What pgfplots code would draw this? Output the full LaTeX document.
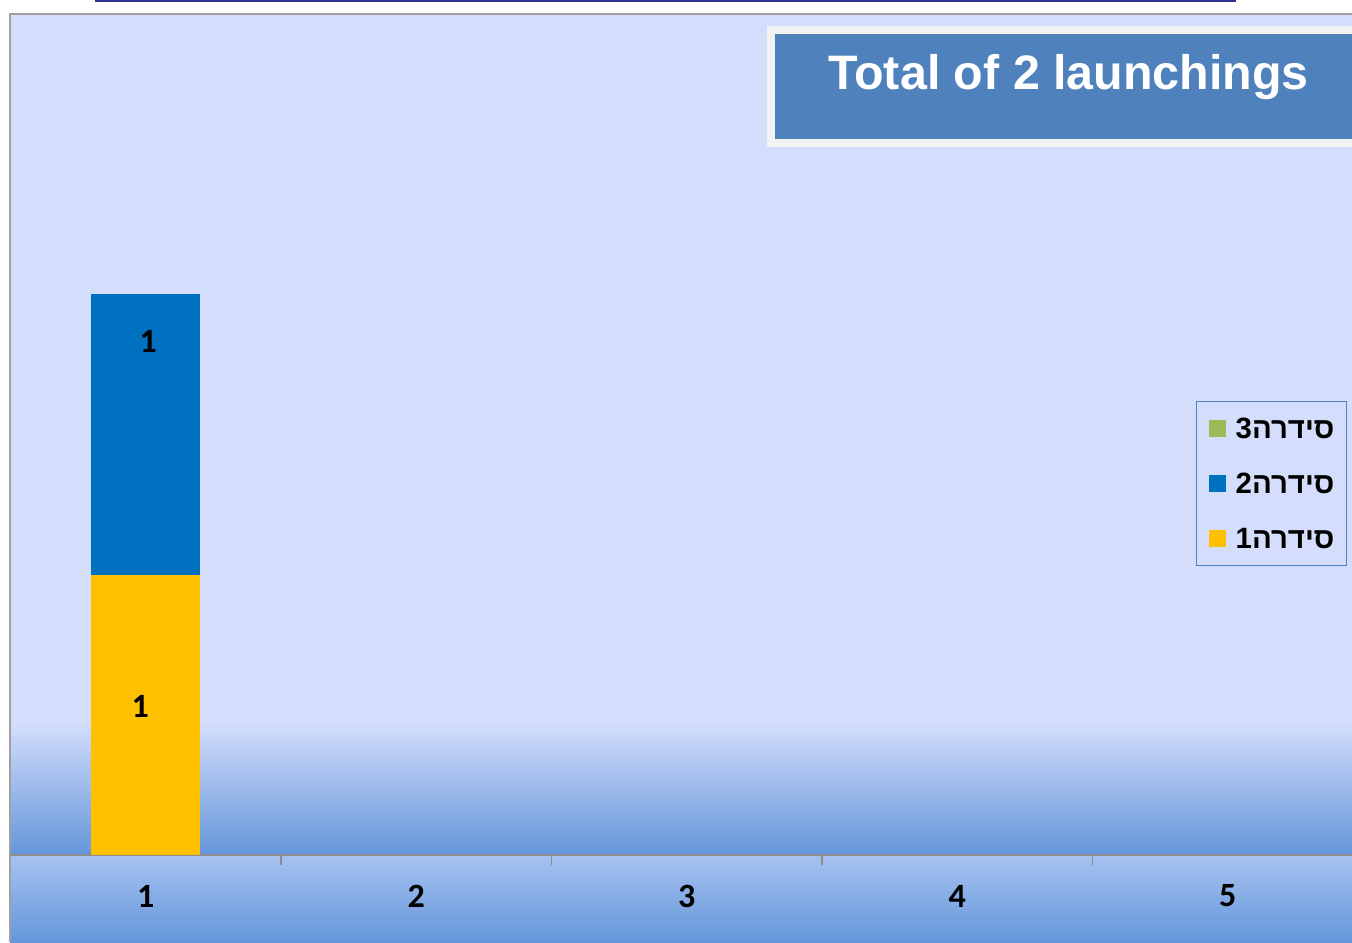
\documentclass[border=0pt]{standalone}
\usepackage{pgfplots}
\pgfplotsset{compat=1.18}
\usepackage{fontspec}
\setmainfont{Liberation Sans}
\newfontfamily\hebfont[Script=Hebrew]{Liberation Sans}
\newfontfamily\calfont{Carlito}
\TeXXeTstate=1
\definecolor{bgc}{HTML}{D4DEFC}
\definecolor{gradlo}{HTML}{6496DA}
\definecolor{band1}{HTML}{A6C1F0}
\definecolor{titleblue}{HTML}{4F81BD}
\definecolor{titlegrey}{HTML}{F2F2F2}
\definecolor{topline}{HTML}{2E3192}
\definecolor{bordergrey}{HTML}{A0A0A0}
\definecolor{axisgrey}{HTML}{8C8C8C}
\definecolor{ser1}{HTML}{FFC000}
\definecolor{ser2}{HTML}{0070C0}
\definecolor{ser3}{HTML}{9BBB59}
\begin{document}
\begin{tikzpicture}[x=0.5pt,y=-0.5pt]
\clip (0,0) rectangle (1352,942);
\fill[white] (0,0) rectangle (1352,942);
\fill[bgc] (10,14) rectangle (1352,942);
\shade[top color=bgc, bottom color=gradlo] (10,722) rectangle (1352,855);
\shade[top color=band1, bottom color=gradlo] (10,856) rectangle (1352,942);
\draw[bordergrey, line width=0.9pt] (10,942) -- (10,14) -- (1352,14);
\fill[topline] (95,0) rectangle (1236,2);
\fill[titlegrey] (767,26) rectangle (1370,147);
\fill[titleblue] (775,34) rectangle (1370,139);
\node[anchor=base west, text=white, font=\bfseries\fontsize{24.2}{29}\selectfont, inner sep=0pt] at (828,89) {Total of 2 launchings};
\coordinate (O) at (10.5,855);
\begin{axis}[
  at={(O)}, anchor=south west,
  scale only axis, width=670.75pt, height=420.5pt,
  xmin=0.5, xmax=5.4595, ymin=0, ymax=3,
  axis y line=none,
  axis x line*=bottom,
  x axis line style={draw=axisgrey, line width=0.9pt},
  xtick={1,2,3,4,5},
  xticklabels={1,2,3,4,5},
  major tick length=0pt,
  minor xtick={1.5,2.5,3.5,4.5},
  minor tick length=5pt,
  xtick align=outside,
  every minor tick/.style={draw=axisgrey, line width=0.7pt},
  xticklabel style={font=\calfont\bfseries\fontsize{17}{20}\selectfont, anchor=center, yshift=-20.5pt, text=black},
  ybar stacked, bar width=54.5pt,
  clip=false,
  reverse legend,
  legend cell align=left,
  legend style={at={(0.9963,0.5398)}, anchor=north east, draw=titleblue, line width=0.6pt, fill=none,
    font=\hebfont\bfseries\fontsize{14.7}{17}\selectfont,
    inner xsep=6pt, inner ysep=6.5pt, row sep=13.5pt, column sep=5pt,
    nodes={inner xsep=0pt, inner ysep=2pt, text height=10pt, text depth=0pt}},
  legend image code/.code={\fill[#1] (0pt,-4.25pt) rectangle (8.5pt,4.25pt);},
]
\addplot[fill=ser1, draw=none, point meta=explicit symbolic, nodes near coords,
  every node near coord/.style={anchor=center, yshift=4pt, xshift=-2.75pt, font=\calfont\bfseries\fontsize{17}{20}\selectfont, text=black}]
  coordinates {(1,1) [1]};
\addlegendentry{\beginR סידרה1\endR}
\addplot[fill=ser2, draw=none, point meta=explicit symbolic, nodes near coords,
  every node near coord/.style={anchor=center, yshift=46.5pt, xshift=1.25pt, font=\calfont\bfseries\fontsize{17}{20}\selectfont, text=black}]
  coordinates {(1,1) [1]};
\addlegendentry{\beginR סידרה2\endR}
\addplot[fill=ser3, draw=none] coordinates {(1,0)};
\addlegendentry{\beginR סידרה3\endR}
\end{axis}
\end{tikzpicture}
\end{document}
